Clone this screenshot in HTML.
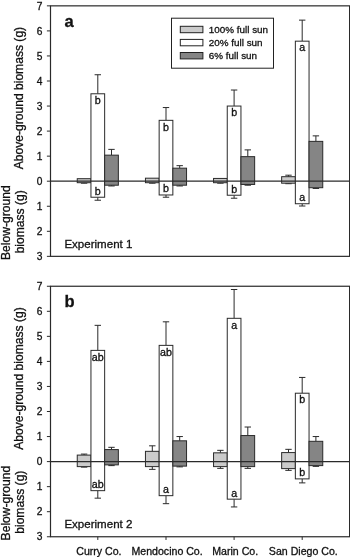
<!DOCTYPE html>
<html><head><meta charset="utf-8"><style>
html,body{margin:0;padding:0;background:#fff;}
svg{display:block;font-family:"Liberation Sans", sans-serif;will-change:transform;}
text{fill:#111;stroke:#111;stroke-width:0.3px;}
</style></head><body>
<svg width="350" height="557" viewBox="0 0 350 557">
<rect width="350" height="557" fill="#fff"/>
<line x1="84.10" y1="182.70" x2="84.10" y2="183.20" stroke="#2a2a2a" stroke-width="1.0"/>
<line x1="80.90" y1="183.20" x2="87.30" y2="183.20" stroke="#2a2a2a" stroke-width="1.0"/>
<rect x="77.25" y="178.69" width="13.70" height="4.01" fill="#cbcbcb" stroke="#2a2a2a" stroke-width="1"/>
<line x1="97.80" y1="74.74" x2="97.80" y2="93.78" stroke="#2a2a2a" stroke-width="1.0"/>
<line x1="94.60" y1="74.74" x2="101.00" y2="74.74" stroke="#2a2a2a" stroke-width="1.0"/>
<line x1="97.80" y1="197.23" x2="97.80" y2="200.24" stroke="#2a2a2a" stroke-width="1.0"/>
<line x1="94.60" y1="200.24" x2="101.00" y2="200.24" stroke="#2a2a2a" stroke-width="1.0"/>
<rect x="90.95" y="93.78" width="13.70" height="103.46" fill="#fff" stroke="#2a2a2a" stroke-width="1"/>
<line x1="111.50" y1="149.39" x2="111.50" y2="155.15" stroke="#2a2a2a" stroke-width="1.0"/>
<line x1="108.30" y1="149.39" x2="114.70" y2="149.39" stroke="#2a2a2a" stroke-width="1.0"/>
<line x1="111.50" y1="185.21" x2="111.50" y2="185.96" stroke="#2a2a2a" stroke-width="1.0"/>
<line x1="108.30" y1="185.96" x2="114.70" y2="185.96" stroke="#2a2a2a" stroke-width="1.0"/>
<rect x="104.65" y="155.15" width="13.70" height="30.06" fill="#858585" stroke="#2a2a2a" stroke-width="1"/>
<text transform="translate(97.80,103.98) scale(1.07,1)" font-size="10" text-anchor="middle" font-weight="normal" >b</text>
<text transform="translate(97.80,194.73) scale(1.07,1)" font-size="10" text-anchor="middle" font-weight="normal" >b</text>
<line x1="152.30" y1="182.70" x2="152.30" y2="183.20" stroke="#2a2a2a" stroke-width="1.0"/>
<line x1="149.10" y1="183.20" x2="155.50" y2="183.20" stroke="#2a2a2a" stroke-width="1.0"/>
<rect x="145.45" y="178.19" width="13.70" height="4.51" fill="#cbcbcb" stroke="#2a2a2a" stroke-width="1"/>
<line x1="166.00" y1="107.55" x2="166.00" y2="120.33" stroke="#2a2a2a" stroke-width="1.0"/>
<line x1="162.80" y1="107.55" x2="169.20" y2="107.55" stroke="#2a2a2a" stroke-width="1.0"/>
<line x1="166.00" y1="194.98" x2="166.00" y2="197.23" stroke="#2a2a2a" stroke-width="1.0"/>
<line x1="162.80" y1="197.23" x2="169.20" y2="197.23" stroke="#2a2a2a" stroke-width="1.0"/>
<rect x="159.15" y="120.33" width="13.70" height="74.65" fill="#fff" stroke="#2a2a2a" stroke-width="1"/>
<line x1="179.70" y1="165.67" x2="179.70" y2="168.17" stroke="#2a2a2a" stroke-width="1.0"/>
<line x1="176.50" y1="165.67" x2="182.90" y2="165.67" stroke="#2a2a2a" stroke-width="1.0"/>
<line x1="179.70" y1="185.21" x2="179.70" y2="185.96" stroke="#2a2a2a" stroke-width="1.0"/>
<line x1="176.50" y1="185.96" x2="182.90" y2="185.96" stroke="#2a2a2a" stroke-width="1.0"/>
<rect x="172.85" y="168.17" width="13.70" height="17.03" fill="#858585" stroke="#2a2a2a" stroke-width="1"/>
<text transform="translate(166.00,130.53) scale(1.07,1)" font-size="10" text-anchor="middle" font-weight="normal" >b</text>
<text transform="translate(166.00,192.48) scale(1.07,1)" font-size="10" text-anchor="middle" font-weight="normal" >b</text>
<line x1="220.40" y1="182.70" x2="220.40" y2="183.20" stroke="#2a2a2a" stroke-width="1.0"/>
<line x1="217.20" y1="183.20" x2="223.60" y2="183.20" stroke="#2a2a2a" stroke-width="1.0"/>
<rect x="213.55" y="178.44" width="13.70" height="4.26" fill="#cbcbcb" stroke="#2a2a2a" stroke-width="1"/>
<line x1="234.10" y1="90.02" x2="234.10" y2="106.05" stroke="#2a2a2a" stroke-width="1.0"/>
<line x1="230.90" y1="90.02" x2="237.30" y2="90.02" stroke="#2a2a2a" stroke-width="1.0"/>
<line x1="234.10" y1="195.23" x2="234.10" y2="198.23" stroke="#2a2a2a" stroke-width="1.0"/>
<line x1="230.90" y1="198.23" x2="237.30" y2="198.23" stroke="#2a2a2a" stroke-width="1.0"/>
<rect x="227.25" y="106.05" width="13.70" height="89.18" fill="#fff" stroke="#2a2a2a" stroke-width="1"/>
<line x1="247.80" y1="149.89" x2="247.80" y2="156.65" stroke="#2a2a2a" stroke-width="1.0"/>
<line x1="244.60" y1="149.89" x2="251.00" y2="149.89" stroke="#2a2a2a" stroke-width="1.0"/>
<line x1="247.80" y1="184.46" x2="247.80" y2="185.21" stroke="#2a2a2a" stroke-width="1.0"/>
<line x1="244.60" y1="185.21" x2="251.00" y2="185.21" stroke="#2a2a2a" stroke-width="1.0"/>
<rect x="240.95" y="156.65" width="13.70" height="27.81" fill="#858585" stroke="#2a2a2a" stroke-width="1"/>
<text transform="translate(234.10,116.25) scale(1.07,1)" font-size="10" text-anchor="middle" font-weight="normal" >b</text>
<text transform="translate(234.10,192.73) scale(1.07,1)" font-size="10" text-anchor="middle" font-weight="normal" >b</text>
<line x1="288.50" y1="175.19" x2="288.50" y2="176.69" stroke="#2a2a2a" stroke-width="1.0"/>
<line x1="285.30" y1="175.19" x2="291.70" y2="175.19" stroke="#2a2a2a" stroke-width="1.0"/>
<line x1="288.50" y1="183.20" x2="288.50" y2="183.70" stroke="#2a2a2a" stroke-width="1.0"/>
<line x1="285.30" y1="183.70" x2="291.70" y2="183.70" stroke="#2a2a2a" stroke-width="1.0"/>
<rect x="281.65" y="176.69" width="13.70" height="6.51" fill="#cbcbcb" stroke="#2a2a2a" stroke-width="1"/>
<line x1="302.20" y1="20.13" x2="302.20" y2="41.17" stroke="#2a2a2a" stroke-width="1.0"/>
<line x1="299.00" y1="20.13" x2="305.40" y2="20.13" stroke="#2a2a2a" stroke-width="1.0"/>
<line x1="302.20" y1="203.75" x2="302.20" y2="206.00" stroke="#2a2a2a" stroke-width="1.0"/>
<line x1="299.00" y1="206.00" x2="305.40" y2="206.00" stroke="#2a2a2a" stroke-width="1.0"/>
<rect x="295.35" y="41.17" width="13.70" height="162.57" fill="#fff" stroke="#2a2a2a" stroke-width="1"/>
<line x1="315.90" y1="135.86" x2="315.90" y2="141.37" stroke="#2a2a2a" stroke-width="1.0"/>
<line x1="312.70" y1="135.86" x2="319.10" y2="135.86" stroke="#2a2a2a" stroke-width="1.0"/>
<line x1="315.90" y1="187.71" x2="315.90" y2="188.46" stroke="#2a2a2a" stroke-width="1.0"/>
<line x1="312.70" y1="188.46" x2="319.10" y2="188.46" stroke="#2a2a2a" stroke-width="1.0"/>
<rect x="309.05" y="141.37" width="13.70" height="46.34" fill="#858585" stroke="#2a2a2a" stroke-width="1"/>
<text transform="translate(302.20,51.37) scale(1.07,1)" font-size="10" text-anchor="middle" font-weight="normal" >a</text>
<text transform="translate(302.20,201.25) scale(1.07,1)" font-size="10" text-anchor="middle" font-weight="normal" >a</text>
<line x1="50.50" y1="181.20" x2="349.60" y2="181.20" stroke="#2a2a2a" stroke-width="1.2"/>
<rect x="50.50" y="5.85" width="299.10" height="250.50" fill="none" stroke="#2a2a2a" stroke-width="1.2"/>
<line x1="46.90" y1="256.35" x2="50.50" y2="256.35" stroke="#2a2a2a" stroke-width="1.0"/>
<text x="42.50" y="260.05" font-size="10.2" text-anchor="end" font-weight="normal" >3</text>
<line x1="46.90" y1="231.30" x2="50.50" y2="231.30" stroke="#2a2a2a" stroke-width="1.0"/>
<text x="42.50" y="235.00" font-size="10.2" text-anchor="end" font-weight="normal" >2</text>
<line x1="46.90" y1="206.25" x2="50.50" y2="206.25" stroke="#2a2a2a" stroke-width="1.0"/>
<text x="42.50" y="209.95" font-size="10.2" text-anchor="end" font-weight="normal" >1</text>
<line x1="46.90" y1="181.20" x2="50.50" y2="181.20" stroke="#2a2a2a" stroke-width="1.0"/>
<text x="42.50" y="184.90" font-size="10.2" text-anchor="end" font-weight="normal" >0</text>
<line x1="46.90" y1="156.15" x2="50.50" y2="156.15" stroke="#2a2a2a" stroke-width="1.0"/>
<text x="42.50" y="159.85" font-size="10.2" text-anchor="end" font-weight="normal" >1</text>
<line x1="46.90" y1="131.10" x2="50.50" y2="131.10" stroke="#2a2a2a" stroke-width="1.0"/>
<text x="42.50" y="134.80" font-size="10.2" text-anchor="end" font-weight="normal" >2</text>
<line x1="46.90" y1="106.05" x2="50.50" y2="106.05" stroke="#2a2a2a" stroke-width="1.0"/>
<text x="42.50" y="109.75" font-size="10.2" text-anchor="end" font-weight="normal" >3</text>
<line x1="46.90" y1="81.00" x2="50.50" y2="81.00" stroke="#2a2a2a" stroke-width="1.0"/>
<text x="42.50" y="84.70" font-size="10.2" text-anchor="end" font-weight="normal" >4</text>
<line x1="46.90" y1="55.95" x2="50.50" y2="55.95" stroke="#2a2a2a" stroke-width="1.0"/>
<text x="42.50" y="59.65" font-size="10.2" text-anchor="end" font-weight="normal" >5</text>
<line x1="46.90" y1="30.90" x2="50.50" y2="30.90" stroke="#2a2a2a" stroke-width="1.0"/>
<text x="42.50" y="34.60" font-size="10.2" text-anchor="end" font-weight="normal" >6</text>
<line x1="46.90" y1="5.85" x2="50.50" y2="5.85" stroke="#2a2a2a" stroke-width="1.0"/>
<text x="42.50" y="9.55" font-size="10.2" text-anchor="end" font-weight="normal" >7</text>
<text x="64.50" y="26.85" font-size="16.5" text-anchor="start" font-weight="bold" >a</text>
<text x="64.40" y="247.75" font-size="11.55" text-anchor="start" font-weight="normal" >Experiment 1</text>
<text transform="translate(23.2,98.12) rotate(-90)" font-size="12.1" text-anchor="middle">Above-ground biomass (g)</text>
<text transform="translate(9.8,222.68) rotate(-90)" font-size="12.1" text-anchor="middle">Below-ground</text>
<text transform="translate(23.5,221.78) rotate(-90)" font-size="12.1" text-anchor="middle">biomass (g)</text>
<line x1="84.10" y1="454.09" x2="84.10" y2="455.09" stroke="#2a2a2a" stroke-width="1.0"/>
<line x1="80.90" y1="454.09" x2="87.30" y2="454.09" stroke="#2a2a2a" stroke-width="1.0"/>
<line x1="84.10" y1="466.61" x2="84.10" y2="467.11" stroke="#2a2a2a" stroke-width="1.0"/>
<line x1="80.90" y1="467.11" x2="87.30" y2="467.11" stroke="#2a2a2a" stroke-width="1.0"/>
<rect x="77.25" y="455.09" width="13.70" height="11.52" fill="#cbcbcb" stroke="#2a2a2a" stroke-width="1"/>
<line x1="97.80" y1="325.33" x2="97.80" y2="350.38" stroke="#2a2a2a" stroke-width="1.0"/>
<line x1="94.60" y1="325.33" x2="101.00" y2="325.33" stroke="#2a2a2a" stroke-width="1.0"/>
<line x1="97.80" y1="490.66" x2="97.80" y2="498.17" stroke="#2a2a2a" stroke-width="1.0"/>
<line x1="94.60" y1="498.17" x2="101.00" y2="498.17" stroke="#2a2a2a" stroke-width="1.0"/>
<rect x="90.95" y="350.38" width="13.70" height="140.28" fill="#fff" stroke="#2a2a2a" stroke-width="1"/>
<line x1="111.50" y1="447.32" x2="111.50" y2="449.58" stroke="#2a2a2a" stroke-width="1.0"/>
<line x1="108.30" y1="447.32" x2="114.70" y2="447.32" stroke="#2a2a2a" stroke-width="1.0"/>
<line x1="111.50" y1="464.86" x2="111.50" y2="465.61" stroke="#2a2a2a" stroke-width="1.0"/>
<line x1="108.30" y1="465.61" x2="114.70" y2="465.61" stroke="#2a2a2a" stroke-width="1.0"/>
<rect x="104.65" y="449.58" width="13.70" height="15.28" fill="#858585" stroke="#2a2a2a" stroke-width="1"/>
<text transform="translate(97.80,360.58) scale(1.07,1)" font-size="10" text-anchor="middle" font-weight="normal" >ab</text>
<text transform="translate(97.80,488.16) scale(1.07,1)" font-size="10" text-anchor="middle" font-weight="normal" >ab</text>
<line x1="152.30" y1="445.82" x2="152.30" y2="451.33" stroke="#2a2a2a" stroke-width="1.0"/>
<line x1="149.10" y1="445.82" x2="155.50" y2="445.82" stroke="#2a2a2a" stroke-width="1.0"/>
<line x1="152.30" y1="466.61" x2="152.30" y2="469.37" stroke="#2a2a2a" stroke-width="1.0"/>
<line x1="149.10" y1="469.37" x2="155.50" y2="469.37" stroke="#2a2a2a" stroke-width="1.0"/>
<rect x="145.45" y="451.33" width="13.70" height="15.28" fill="#cbcbcb" stroke="#2a2a2a" stroke-width="1"/>
<line x1="166.00" y1="321.82" x2="166.00" y2="345.37" stroke="#2a2a2a" stroke-width="1.0"/>
<line x1="162.80" y1="321.82" x2="169.20" y2="321.82" stroke="#2a2a2a" stroke-width="1.0"/>
<line x1="166.00" y1="495.67" x2="166.00" y2="503.68" stroke="#2a2a2a" stroke-width="1.0"/>
<line x1="162.80" y1="503.68" x2="169.20" y2="503.68" stroke="#2a2a2a" stroke-width="1.0"/>
<rect x="159.15" y="345.37" width="13.70" height="150.30" fill="#fff" stroke="#2a2a2a" stroke-width="1"/>
<line x1="179.70" y1="436.55" x2="179.70" y2="440.81" stroke="#2a2a2a" stroke-width="1.0"/>
<line x1="176.50" y1="436.55" x2="182.90" y2="436.55" stroke="#2a2a2a" stroke-width="1.0"/>
<line x1="179.70" y1="466.11" x2="179.70" y2="466.86" stroke="#2a2a2a" stroke-width="1.0"/>
<line x1="176.50" y1="466.86" x2="182.90" y2="466.86" stroke="#2a2a2a" stroke-width="1.0"/>
<rect x="172.85" y="440.81" width="13.70" height="25.30" fill="#858585" stroke="#2a2a2a" stroke-width="1"/>
<text transform="translate(166.00,355.57) scale(1.07,1)" font-size="10" text-anchor="middle" font-weight="normal" >ab</text>
<text transform="translate(166.00,493.17) scale(1.07,1)" font-size="10" text-anchor="middle" font-weight="normal" >a</text>
<line x1="220.40" y1="450.33" x2="220.40" y2="452.83" stroke="#2a2a2a" stroke-width="1.0"/>
<line x1="217.20" y1="450.33" x2="223.60" y2="450.33" stroke="#2a2a2a" stroke-width="1.0"/>
<line x1="220.40" y1="466.61" x2="220.40" y2="468.36" stroke="#2a2a2a" stroke-width="1.0"/>
<line x1="217.20" y1="468.36" x2="223.60" y2="468.36" stroke="#2a2a2a" stroke-width="1.0"/>
<rect x="213.55" y="452.83" width="13.70" height="13.78" fill="#cbcbcb" stroke="#2a2a2a" stroke-width="1"/>
<line x1="234.10" y1="289.51" x2="234.10" y2="318.31" stroke="#2a2a2a" stroke-width="1.0"/>
<line x1="230.90" y1="289.51" x2="237.30" y2="289.51" stroke="#2a2a2a" stroke-width="1.0"/>
<line x1="234.10" y1="499.18" x2="234.10" y2="506.94" stroke="#2a2a2a" stroke-width="1.0"/>
<line x1="230.90" y1="506.94" x2="237.30" y2="506.94" stroke="#2a2a2a" stroke-width="1.0"/>
<rect x="227.25" y="318.31" width="13.70" height="180.86" fill="#fff" stroke="#2a2a2a" stroke-width="1"/>
<line x1="247.80" y1="427.03" x2="247.80" y2="435.55" stroke="#2a2a2a" stroke-width="1.0"/>
<line x1="244.60" y1="427.03" x2="251.00" y2="427.03" stroke="#2a2a2a" stroke-width="1.0"/>
<line x1="247.80" y1="466.61" x2="247.80" y2="468.36" stroke="#2a2a2a" stroke-width="1.0"/>
<line x1="244.60" y1="468.36" x2="251.00" y2="468.36" stroke="#2a2a2a" stroke-width="1.0"/>
<rect x="240.95" y="435.55" width="13.70" height="31.06" fill="#858585" stroke="#2a2a2a" stroke-width="1"/>
<text transform="translate(234.10,328.51) scale(1.07,1)" font-size="10" text-anchor="middle" font-weight="normal" >a</text>
<text transform="translate(234.10,496.68) scale(1.07,1)" font-size="10" text-anchor="middle" font-weight="normal" >a</text>
<line x1="288.50" y1="449.33" x2="288.50" y2="452.58" stroke="#2a2a2a" stroke-width="1.0"/>
<line x1="285.30" y1="449.33" x2="291.70" y2="449.33" stroke="#2a2a2a" stroke-width="1.0"/>
<line x1="288.50" y1="468.61" x2="288.50" y2="470.37" stroke="#2a2a2a" stroke-width="1.0"/>
<line x1="285.30" y1="470.37" x2="291.70" y2="470.37" stroke="#2a2a2a" stroke-width="1.0"/>
<rect x="281.65" y="452.58" width="13.70" height="16.03" fill="#cbcbcb" stroke="#2a2a2a" stroke-width="1"/>
<line x1="302.20" y1="377.43" x2="302.20" y2="393.21" stroke="#2a2a2a" stroke-width="1.0"/>
<line x1="299.00" y1="377.43" x2="305.40" y2="377.43" stroke="#2a2a2a" stroke-width="1.0"/>
<line x1="302.20" y1="478.88" x2="302.20" y2="482.89" stroke="#2a2a2a" stroke-width="1.0"/>
<line x1="299.00" y1="482.89" x2="305.40" y2="482.89" stroke="#2a2a2a" stroke-width="1.0"/>
<rect x="295.35" y="393.21" width="13.70" height="85.67" fill="#fff" stroke="#2a2a2a" stroke-width="1"/>
<line x1="315.90" y1="436.55" x2="315.90" y2="441.31" stroke="#2a2a2a" stroke-width="1.0"/>
<line x1="312.70" y1="436.55" x2="319.10" y2="436.55" stroke="#2a2a2a" stroke-width="1.0"/>
<line x1="315.90" y1="465.61" x2="315.90" y2="466.36" stroke="#2a2a2a" stroke-width="1.0"/>
<line x1="312.70" y1="466.36" x2="319.10" y2="466.36" stroke="#2a2a2a" stroke-width="1.0"/>
<rect x="309.05" y="441.31" width="13.70" height="24.30" fill="#858585" stroke="#2a2a2a" stroke-width="1"/>
<text transform="translate(302.20,403.41) scale(1.07,1)" font-size="10" text-anchor="middle" font-weight="normal" >b</text>
<text transform="translate(302.20,476.38) scale(1.07,1)" font-size="10" text-anchor="middle" font-weight="normal" >b</text>
<line x1="50.50" y1="461.60" x2="349.60" y2="461.60" stroke="#2a2a2a" stroke-width="1.2"/>
<rect x="50.50" y="286.25" width="299.10" height="250.50" fill="none" stroke="#2a2a2a" stroke-width="1.2"/>
<line x1="46.90" y1="536.75" x2="50.50" y2="536.75" stroke="#2a2a2a" stroke-width="1.0"/>
<text x="42.50" y="540.45" font-size="10.2" text-anchor="end" font-weight="normal" >3</text>
<line x1="46.90" y1="511.70" x2="50.50" y2="511.70" stroke="#2a2a2a" stroke-width="1.0"/>
<text x="42.50" y="515.40" font-size="10.2" text-anchor="end" font-weight="normal" >2</text>
<line x1="46.90" y1="486.65" x2="50.50" y2="486.65" stroke="#2a2a2a" stroke-width="1.0"/>
<text x="42.50" y="490.35" font-size="10.2" text-anchor="end" font-weight="normal" >1</text>
<line x1="46.90" y1="461.60" x2="50.50" y2="461.60" stroke="#2a2a2a" stroke-width="1.0"/>
<text x="42.50" y="465.30" font-size="10.2" text-anchor="end" font-weight="normal" >0</text>
<line x1="46.90" y1="436.55" x2="50.50" y2="436.55" stroke="#2a2a2a" stroke-width="1.0"/>
<text x="42.50" y="440.25" font-size="10.2" text-anchor="end" font-weight="normal" >1</text>
<line x1="46.90" y1="411.50" x2="50.50" y2="411.50" stroke="#2a2a2a" stroke-width="1.0"/>
<text x="42.50" y="415.20" font-size="10.2" text-anchor="end" font-weight="normal" >2</text>
<line x1="46.90" y1="386.45" x2="50.50" y2="386.45" stroke="#2a2a2a" stroke-width="1.0"/>
<text x="42.50" y="390.15" font-size="10.2" text-anchor="end" font-weight="normal" >3</text>
<line x1="46.90" y1="361.40" x2="50.50" y2="361.40" stroke="#2a2a2a" stroke-width="1.0"/>
<text x="42.50" y="365.10" font-size="10.2" text-anchor="end" font-weight="normal" >4</text>
<line x1="46.90" y1="336.35" x2="50.50" y2="336.35" stroke="#2a2a2a" stroke-width="1.0"/>
<text x="42.50" y="340.05" font-size="10.2" text-anchor="end" font-weight="normal" >5</text>
<line x1="46.90" y1="311.30" x2="50.50" y2="311.30" stroke="#2a2a2a" stroke-width="1.0"/>
<text x="42.50" y="315.00" font-size="10.2" text-anchor="end" font-weight="normal" >6</text>
<line x1="46.90" y1="286.25" x2="50.50" y2="286.25" stroke="#2a2a2a" stroke-width="1.0"/>
<text x="42.50" y="289.95" font-size="10.2" text-anchor="end" font-weight="normal" >7</text>
<text x="64.50" y="306.75" font-size="16.5" text-anchor="start" font-weight="bold" >b</text>
<text x="64.40" y="528.15" font-size="11.55" text-anchor="start" font-weight="normal" >Experiment 2</text>
<text transform="translate(23.2,378.53) rotate(-90)" font-size="12.1" text-anchor="middle">Above-ground biomass (g)</text>
<text transform="translate(9.8,503.07) rotate(-90)" font-size="12.1" text-anchor="middle">Below-ground</text>
<text transform="translate(23.5,502.18) rotate(-90)" font-size="12.1" text-anchor="middle">biomass (g)</text>
<rect x="171.5" y="18.2" width="102" height="50" fill="#fff" stroke="#222" stroke-width="1"/>
<rect x="180.3" y="26.30" width="22.6" height="6.4" fill="#cbcbcb" stroke="#222" stroke-width="1"/>
<text x="208.80" y="33.20" font-size="9.9" text-anchor="start" font-weight="normal" >100% full sun</text>
<rect x="180.3" y="39.40" width="22.6" height="6.4" fill="#fff" stroke="#222" stroke-width="1"/>
<text x="208.80" y="46.30" font-size="9.9" text-anchor="start" font-weight="normal" >20% full sun</text>
<rect x="180.3" y="52.50" width="22.6" height="6.4" fill="#858585" stroke="#222" stroke-width="1"/>
<text x="208.80" y="59.40" font-size="9.9" text-anchor="start" font-weight="normal" >6% full sun</text>
<line x1="97.80" y1="536.75" x2="97.80" y2="539.95" stroke="#2a2a2a" stroke-width="1.0"/>
<text x="98.90" y="554.80" font-size="10.6" text-anchor="middle" font-weight="normal" >Curry Co.</text>
<line x1="166.00" y1="536.75" x2="166.00" y2="539.95" stroke="#2a2a2a" stroke-width="1.0"/>
<text x="167.10" y="554.80" font-size="10.6" text-anchor="middle" font-weight="normal" >Mendocino Co.</text>
<line x1="234.10" y1="536.75" x2="234.10" y2="539.95" stroke="#2a2a2a" stroke-width="1.0"/>
<text x="235.20" y="554.80" font-size="10.6" text-anchor="middle" font-weight="normal" >Marin Co.</text>
<line x1="302.20" y1="536.75" x2="302.20" y2="539.95" stroke="#2a2a2a" stroke-width="1.0"/>
<text x="303.30" y="554.80" font-size="10.6" text-anchor="middle" font-weight="normal" >San Diego Co.</text>
</svg>
</body></html>
